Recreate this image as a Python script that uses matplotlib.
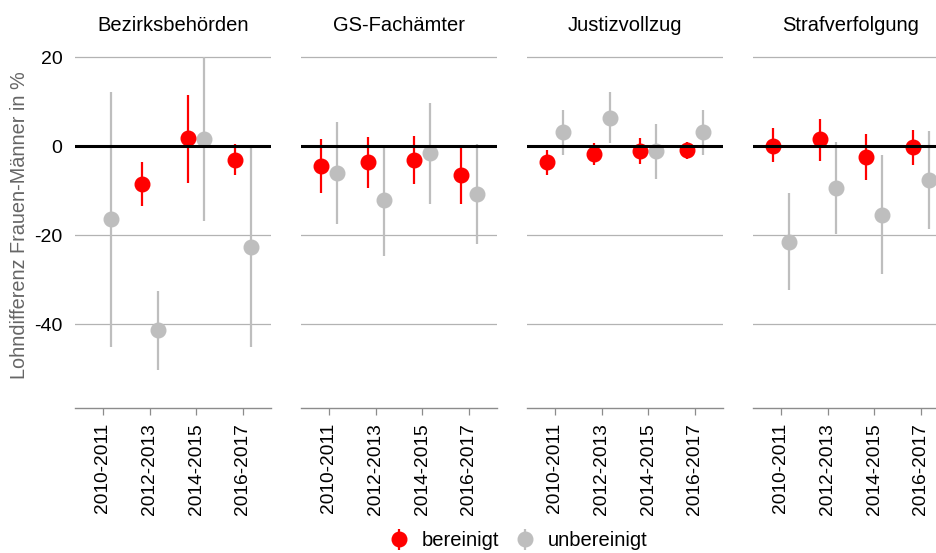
import numpy as np
import matplotlib
matplotlib.use('Agg')
import matplotlib.pyplot as plt

plt.rcParams['font.family'] = ['Liberation Sans', 'DejaVu Sans']
plt.rcParams['axes.unicode_minus'] = False

# data
panels = ['Bezirksbehörden', 'GS-Fachämter', 'Justizvollzug', 'Strafverfolgung']
periods = ['2010-2011', '2012-2013', '2014-2015', '2016-2017']

# bereinigt (red): point, lower, upper
ber_pt = [[np.nan, -8.6, 1.7, -3.1],
          [-4.5, -3.7, -3.1, -6.5],
          [-3.7, -1.8, -1.1, -0.9],
          [0.1, 1.5, -2.4, -0.3]]
ber_lo = [[np.nan, -13.5, -8.2, -6.4],
          [-10.6, -9.5, -8.6, -13.1],
          [-6.5, -4.3, -4.0, -2.9],
          [-3.7, -3.3, -7.6, -4.3]]
ber_hi = [[np.nan, -3.7, 11.5, 0.4],
          [1.5, 2.1, 2.3, -0.1],
          [-0.9, 0.6, 1.7, 1.0],
          [4.0, 6.1, 2.6, 3.6]]

# unbereinigt (grey): point, lower, upper
unb_pt = [[-16.4, -41.3, 1.5, -22.8],
          [-6.1, -12.1, -1.6, -10.7],
          [3.1, 6.4, -1.1, 3.1],
          [-21.6, -9.4, -15.4, -7.6]]
unb_lo = [[-45.1, -50.3, -16.9, -45.1],
          [-17.6, -24.7, -13.0, -22.0],
          [-2.0, 0.7, -7.3, -2.0],
          [-32.4, -19.8, -28.8, -18.7]]
unb_hi = [[12.1, -32.5, 19.9, -0.1],
          [5.3, 0.2, 9.7, 0.4],
          [8.1, 12.1, 4.9, 8.1],
          [-10.6, 1.0, -2.0, 3.4]]

RED = '#FF0000'
GREY = '#BEBEBE'
W, H = 937, 553

fig = plt.figure(figsize=(W / 100, H / 100), dpi=100)

x = np.arange(len(periods))
dodge = 0.17
lefts = [75, 301, 527, 753]
pw = 196
bottom_px, top_px = 407.7, 45

handles = None
for i, name in enumerate(panels):
    ax = fig.add_axes([lefts[i] / W, (H - bottom_px) / H, pw / W, (bottom_px - top_px) / H])
    ax.set_xlim(-0.6, len(periods) - 0.4)
    ax.set_ylim(-58.8, 22.7)

    up = np.array(unb_pt[i])
    hu = ax.errorbar(x + dodge, up, yerr=[up - np.array(unb_lo[i]), np.array(unb_hi[i]) - up],
                     fmt='o', color=GREY, ms=10.5, elinewidth=1.6, capsize=0, zorder=3)
    bp = np.array(ber_pt[i])
    hb = ax.errorbar(x - dodge, bp, yerr=[bp - np.array(ber_lo[i]), np.array(ber_hi[i]) - bp],
                     fmt='o', color=RED, ms=10.5, elinewidth=1.6, capsize=0, zorder=4)
    if handles is None:
        handles = [hb, hu]

    ax.axhline(0, color='black', lw=2.2, zorder=5)

    ax.set_yticks([20, 0, -20, -40])
    ax.yaxis.grid(True, color='#b3b3b3', lw=0.9)
    ax.set_axisbelow(True)
    ax.tick_params(axis='y', length=0, labelsize=14, pad=9)
    if i > 0:
        ax.tick_params(axis='y', labelleft=False)

    ax.set_xticks(x)
    ax.set_xticklabels(periods, rotation=90, fontsize=13.8)
    ax.tick_params(axis='x', length=5, color='#8c8c8c', width=0.9, pad=6)

    for s in ['top', 'right', 'left']:
        ax.spines[s].set_visible(False)
    ax.spines['bottom'].set_color('#8c8c8c')
    ax.spines['bottom'].set_linewidth(1.0)

    ax.set_title(name, fontsize=14.5, pad=10)

    if i == 0:
        ax.set_ylabel('Lohndifferenz Frauen-Männer in %', fontsize=14.3, color='#666666')
        ax.yaxis.set_label_coords(-46 / pw, (bottom_px - 225) / (bottom_px - top_px))

fig.legend(handles, ['bereinigt', 'unbereinigt'], loc='center',
           bbox_to_anchor=(0.553, 12 / H), ncol=2, frameon=False,
           fontsize=14.5, handlelength=1.0, handletextpad=0.6, columnspacing=0.8)

fig.savefig('out.png', dpi=100)
